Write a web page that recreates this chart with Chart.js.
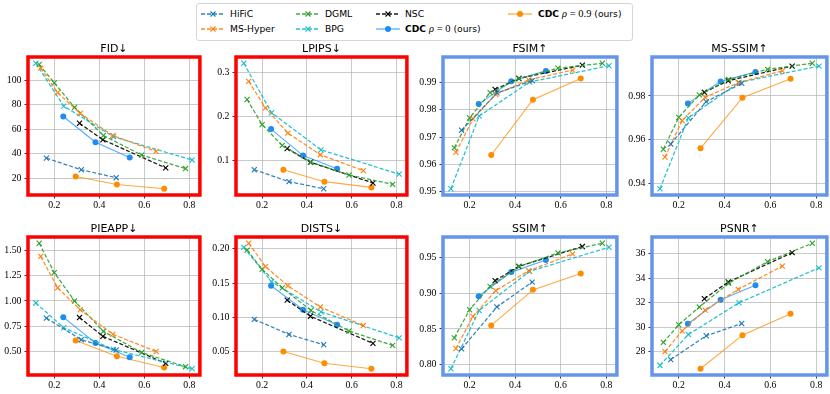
<!DOCTYPE html>
<html><head><meta charset="utf-8">
<script src="https://cdn.jsdelivr.net/npm/chart.js@4"></script>
<style>
html,body{margin:0;padding:0;background:#fff;width:830px;height:394px;overflow:hidden;position:relative}
canvas{position:absolute}
#legend{position:absolute;left:196px;top:3px;width:437px;height:38px;border:1px solid #d6d6d6;border-radius:3px;font-family:"DejaVu Sans";font-size:9.2px;color:#000;box-sizing:border-box;background:#fff}
.item{position:absolute;white-space:nowrap;line-height:12px;height:12px}
.sample{position:absolute}
.m{font-family:"Liberation Serif";font-style:italic;font-size:10.5px}
.r{font-family:"Liberation Serif";font-size:10.5px}
</style></head><body>
<div id="legend"></div>
<script>
// ---- bits per pixel (x) for each method ----
const X_HiFiC   = [0.165, 0.32, 0.475];
const X_MSHyper = [0.14, 0.215, 0.315, 0.46, 0.652];
const X_DGML    = [0.133, 0.2, 0.29, 0.418, 0.588, 0.783];
const X_BPG     = [0.118, 0.242, 0.463, 0.812];
const X_NSC     = [0.312, 0.416, 0.695];
const X_CDC0    = [0.24, 0.383, 0.535];
const X_CDC09   = [0.295, 0.478, 0.688];

// ---- FID ----
const FID_HiFiC   = [36.5, 27, 20.5];
const FID_MSHyper = [110, 90, 73, 55, 42];
const FID_DGML    = [113, 98, 78, 55, 39, 28];
const FID_BPG     = [114, 79, 54, 35];
const FID_NSC     = [65, 51.5, 28.5];
const FID_CDC0    = [70.5, 49.5, 37];
const FID_CDC09   = [21.5, 15, 11.5];
// ---- LPIPS ----
const LPIPS_HiFiC   = [0.079, 0.052, 0.036];
const LPIPS_MSHyper = [0.279, 0.219, 0.162, 0.113, 0.077];
const LPIPS_DGML    = [0.238, 0.181, 0.134, 0.096, 0.067, 0.046];
const LPIPS_BPG     = [0.32, 0.208, 0.124, 0.069];
const LPIPS_NSC     = [0.127, 0.096, 0.049];
const LPIPS_CDC0    = [0.171, 0.111, 0.081];
const LPIPS_CDC09   = [0.079, 0.052, 0.039];
// ---- FSIM ----
const FSIM_HiFiC   = [0.9725, 0.9862, 0.9907];
const FSIM_MSHyper = [0.9644, 0.9767, 0.9857, 0.991, 0.9946];
const FSIM_DGML    = [0.966, 0.977, 0.9863, 0.9915, 0.9953, 0.9971];
const FSIM_BPG     = [0.951, 0.9777, 0.9902, 0.9962];
const FSIM_NSC     = [0.9875, 0.9915, 0.9964];
const FSIM_CDC0    = [0.9821, 0.9905, 0.9943];
const FSIM_CDC09   = [0.9634, 0.9837, 0.9915];
// ---- MS-SSIM ----
const MSSSIM_HiFiC   = [0.958, 0.9774, 0.9858];
const MSSSIM_MSHyper = [0.952, 0.9687, 0.9794, 0.9861, 0.9915];
const MSSSIM_DGML    = [0.9556, 0.9702, 0.9805, 0.9876, 0.9922, 0.995];
const MSSSIM_BPG     = [0.9375, 0.97, 0.9862, 0.9937];
const MSSSIM_NSC     = [0.9817, 0.987, 0.9937];
const MSSSIM_CDC0    = [0.9766, 0.9867, 0.991];
const MSSSIM_CDC09   = [0.956, 0.9792, 0.9879];
// ---- PIEAPP ----
const PIEAPP_HiFiC   = [0.83, 0.617, 0.515];
const PIEAPP_MSHyper = [1.44, 1.13, 0.913, 0.671, 0.5];
const PIEAPP_DGML    = [1.57, 1.28, 1.0, 0.70, 0.49, 0.35];
const PIEAPP_BPG     = [0.98, 0.735, 0.52, 0.33];
const PIEAPP_NSC     = [0.836, 0.65, 0.383];
const PIEAPP_CDC0    = [0.84, 0.584, 0.443];
const PIEAPP_CDC09   = [0.61, 0.453, 0.342];
// ---- DISTS ----
const DISTS_HiFiC   = [0.097, 0.075, 0.06];
const DISTS_MSHyper = [0.208, 0.174, 0.146, 0.115, 0.088];
const DISTS_DGML    = [0.198, 0.17, 0.143, 0.11, 0.08, 0.059];
const DISTS_BPG     = [0.202, 0.152, 0.108, 0.07];
const DISTS_NSC     = [0.125, 0.1015, 0.062];
const DISTS_CDC0    = [0.146, 0.111, 0.089];
const DISTS_CDC09   = [0.05, 0.033, 0.025];
// ---- SSIM ----
const SSIM_HiFiC   = [0.822, 0.881, 0.916];
const SSIM_MSHyper = [0.8225, 0.8675, 0.904, 0.932, 0.9556];
const SSIM_DGML    = [0.8375, 0.877, 0.91, 0.938, 0.957, 0.9706];
const SSIM_BPG     = [0.794, 0.876, 0.931, 0.965];
const SSIM_NSC     = [0.918, 0.938, 0.966];
const SSIM_CDC0    = [0.896, 0.93, 0.947];
const SSIM_CDC09   = [0.855, 0.905, 0.928];
// ---- PSNR ----
const PSNR_HiFiC   = [27.35, 29.3, 30.3];
const PSNR_MSHyper = [28.0, 29.7, 31.4, 33.1, 35.0];
const PSNR_DGML    = [28.76, 30.2, 31.65, 33.6, 35.37, 36.87];
const PSNR_BPG     = [26.88, 29.4, 32.0, 34.86];
const PSNR_NSC     = [32.33, 33.7, 36.1];
const PSNR_CDC0    = [30.28, 32.24, 33.44];
const PSNR_CDC09   = [26.6, 29.35, 31.1];

// ---- tick values / labels ----
const X_TICKS = [0.2, 0.4, 0.6, 0.8];
const X_TICK_LABELS = ['0.2', '0.4', '0.6', '0.8'];
const FID_TICKS = [20, 40, 60, 80, 100];        const FID_LABELS = ['20','40','60','80','100'];
const LPIPS_TICKS = [0.1, 0.2, 0.3];            const LPIPS_LABELS = ['0.1','0.2','0.3'];
const FSIM_TICKS = [0.95, 0.96, 0.97, 0.98, 0.99]; const FSIM_LABELS = ['0.95','0.96','0.97','0.98','0.99'];
const MSSSIM_TICKS = [0.94, 0.96, 0.98];        const MSSSIM_LABELS = ['0.94','0.96','0.98'];
const PIEAPP_TICKS = [0.5, 0.75, 1.0, 1.25, 1.5]; const PIEAPP_LABELS = ['0.50','0.75','1.00','1.25','1.50'];
const DISTS_TICKS = [0.05, 0.1, 0.15, 0.2];     const DISTS_LABELS = ['0.05','0.10','0.15','0.20'];
const SSIM_TICKS = [0.8, 0.85, 0.9, 0.95];      const SSIM_LABELS = ['0.80','0.85','0.90','0.95'];
const PSNR_TICKS = [28, 30, 32, 34, 36];        const PSNR_LABELS = ['28','30','32','34','36'];

// ---- series styles ----
const SERIES = [
  {name:'HiFiC',    x:X_HiFiC,   line:'rgba(31,119,180,0.9)', pt:'#1f77b4', dash:true},
  {name:'MS-Hyper', x:X_MSHyper, line:'rgba(255,127,14,0.9)', pt:'#ff7f0e', dash:true},
  {name:'DGML',     x:X_DGML,    line:'rgba(44,160,44,0.9)',  pt:'#2ca02c', dash:true},
  {name:'BPG',      x:X_BPG,     line:'rgba(23,190,207,0.95)',pt:'#17becf', dash:true},
  {name:'NSC',      x:X_NSC,     line:'rgba(0,0,0,0.9)',      pt:'#000000', dash:true},
  {name:'CDC0',     x:X_CDC0,    line:'rgba(30,144,255,0.75)',pt:'#1e8cf0', dash:false},
  {name:'CDC09',    x:X_CDC09,   line:'rgba(255,140,0,0.75)', pt:'#ff8c00', dash:false}
];

const PANELS = [
  {title:'FID↓',     ys:[FID_HiFiC,FID_MSHyper,FID_DGML,FID_BPG,FID_NSC,FID_CDC0,FID_CDC09], ticks:FID_TICKS, labels:FID_LABELS, frame:'#ff0000', col:0, row:0},
  {title:'LPIPS↓',   ys:[LPIPS_HiFiC,LPIPS_MSHyper,LPIPS_DGML,LPIPS_BPG,LPIPS_NSC,LPIPS_CDC0,LPIPS_CDC09], ticks:LPIPS_TICKS, labels:LPIPS_LABELS, frame:'#ff0000', col:1, row:0},
  {title:'FSIM↑',    ys:[FSIM_HiFiC,FSIM_MSHyper,FSIM_DGML,FSIM_BPG,FSIM_NSC,FSIM_CDC0,FSIM_CDC09], ticks:FSIM_TICKS, labels:FSIM_LABELS, frame:'#6495ed', col:2, row:0},
  {title:'MS-SSIM↑', ys:[MSSSIM_HiFiC,MSSSIM_MSHyper,MSSSIM_DGML,MSSSIM_BPG,MSSSIM_NSC,MSSSIM_CDC0,MSSSIM_CDC09], ticks:MSSSIM_TICKS, labels:MSSSIM_LABELS, frame:'#6495ed', col:3, row:0},
  {title:'PIEAPP↓',  ys:[PIEAPP_HiFiC,PIEAPP_MSHyper,PIEAPP_DGML,PIEAPP_BPG,PIEAPP_NSC,PIEAPP_CDC0,PIEAPP_CDC09], ticks:PIEAPP_TICKS, labels:PIEAPP_LABELS, frame:'#ff0000', col:0, row:1},
  {title:'DISTS↓',   ys:[DISTS_HiFiC,DISTS_MSHyper,DISTS_DGML,DISTS_BPG,DISTS_NSC,DISTS_CDC0,DISTS_CDC09], ticks:DISTS_TICKS, labels:DISTS_LABELS, frame:'#ff0000', col:1, row:1},
  {title:'SSIM↑',    ys:[SSIM_HiFiC,SSIM_MSHyper,SSIM_DGML,SSIM_BPG,SSIM_NSC,SSIM_CDC0,SSIM_CDC09], ticks:SSIM_TICKS, labels:SSIM_LABELS, frame:'#6495ed', col:2, row:1},
  {title:'PSNR↑',    ys:[PSNR_HiFiC,PSNR_MSHyper,PSNR_DGML,PSNR_BPG,PSNR_NSC,PSNR_CDC0,PSNR_CDC09], ticks:PSNR_TICKS, labels:PSNR_LABELS, frame:'#6495ed', col:3, row:1}
];

// ---- layout (plot-area boxes) ----
const COLS = [[28,201],[236,408],[443,618],[652,828]];
const ROWS = [[57,195],[237,375]];
const W_Y = 28, T_H = 15, X_H = 20, PAD_R = 4;

const framePlugin = {
  id:'frame',
  afterDatasetsDraw(chart, args, opts){
    const {ctx, chartArea:a} = chart;
    ctx.save();
    ctx.strokeStyle = opts.color; ctx.lineWidth = 3.5;
    ctx.strokeRect(a.left, a.top, a.right-a.left, a.bottom-a.top);
    ctx.restore();
  }
};

function range(arrs){
  let mn = Infinity, mx = -Infinity;
  arrs.forEach(a => a.forEach(v => { mn = Math.min(mn, v); mx = Math.max(mx, v); }));
  const m = (mx - mn) * 0.05;
  return [mn - m, mx + m];
}
const XR = range(SERIES.map(s => s.x));

PANELS.forEach((p, idx) => {
  const [l, r] = COLS[p.col], [t, b] = ROWS[p.row];
  const cv = document.createElement('canvas');
  const w = W_Y + (r - l) + PAD_R, h = T_H + (b - t) + X_H;
  cv.width = w; cv.height = h;
  cv.style.left = (l - W_Y) + 'px'; cv.style.top = (t - T_H) + 'px';
  cv.style.width = w + 'px'; cv.style.height = h + 'px';
  document.body.appendChild(cv);
  const YR = range(p.ys);
  const datasets = SERIES.map((s, i) => ({
    label: s.name,
    data: s.x.map((x, k) => ({x, y: p.ys[i][k]})),
    borderColor: s.line,
    backgroundColor: s.pt,
    borderWidth: s.dash ? 1.25 : 1.1,
    borderDash: s.dash ? [4, 2] : [],
    pointStyle: s.dash ? 'crossRot' : 'circle',
    pointRadius: s.dash ? 3.6 : 3,
    pointBorderWidth: s.dash ? 1.1 : 0,
    pointBorderColor: s.pt,
    pointBackgroundColor: s.pt,
    tension: 0, fill: false
  }));
  new Chart(cv, {
    type: 'line',
    data: {datasets},
    plugins: [framePlugin],
    options: {
      responsive: false, animation: false, devicePixelRatio: 1,
      layout: {padding: {left: 0, right: PAD_R, top: 0, bottom: 0}},
      plugins: {
        legend: {display: false}, tooltip: {enabled: false},
        title: {display: true, text: p.title, fullSize: false, color: '#000',
                font: {family: 'DejaVu Sans', size: 11, lineHeight: '14px', weight: 'normal'},
                padding: {top: 0, bottom: 1}},
        frame: {color: p.frame}
      },
      scales: {
        x: {
          type: 'linear', min: XR[0], max: XR[1],
          afterFit: s => { s.height = X_H; },
          afterBuildTicks: s => { s.ticks = X_TICKS.map(v => ({value: v})); },
          ticks: {callback: (v, i) => X_TICK_LABELS[i], color: '#000', padding: 1, maxRotation: 0,
                  font: {family: 'Liberation Serif', size: 9.8}},
          grid: {color: 'rgba(176,176,176,0.75)', lineWidth: 0.9, drawTicks: true, tickLength: 3.5, tickColor: '#000', tickWidth: 0.8},
          border: {display: false}
        },
        y: {
          type: 'linear', min: YR[0], max: YR[1],
          afterFit: s => { s.width = W_Y; },
          afterBuildTicks: s => { s.ticks = p.ticks.map(v => ({value: v})); },
          ticks: {callback: (v, i) => p.labels[i], color: '#000', padding: 3,
                  font: {family: 'Liberation Serif', size: 9.8}},
          grid: {color: 'rgba(176,176,176,0.75)', lineWidth: 0.9, drawTicks: true, tickLength: 3.5, tickColor: '#000', tickWidth: 0.8},
          border: {display: false}
        }
      }
    }
  });
});

// ---- legend (HTML) ----
const LEG_LABELS = [
  'HiFiC', 'MS-Hyper', 'DGML', 'BPG', 'NSC',
  '<b>CDC</b> <span class="m">ρ</span><span class="r"> = 0</span> (ours)',
  '<b>CDC</b> <span class="m">ρ</span><span class="r"> = 0.9</span> (ours)'
];
const LEG_POS = [[0,0],[0,1],[1,0],[1,1],[2,0],[2,1],[3,0]];
const SAMPLE_X = [4, 99, 179, 311], TEXT_X = [33, 128, 208, 341], ROW_Y = [10, 25];
const leg = document.getElementById('legend');
SERIES.forEach((s, i) => {
  const [c, rr] = LEG_POS[i];
  const cy = ROW_Y[rr];
  const marker = s.dash
    ? `<line x1="9.5" y1="2.5" x2="14.5" y2="7.5" stroke="${s.pt}" stroke-width="1.1"/><line x1="9.5" y1="7.5" x2="14.5" y2="2.5" stroke="${s.pt}" stroke-width="1.1"/>`
    : `<circle cx="12" cy="5" r="3" fill="${s.pt}"/>`;
  const svg = `<svg class="sample" width="24" height="10" style="left:${SAMPLE_X[c]}px;top:${cy-5}px"><line x1="0" y1="5" x2="24" y2="5" stroke="${s.line}" stroke-width="1.3" ${s.dash ? 'stroke-dasharray="4,2"' : ''}/>${marker}</svg>`;
  leg.insertAdjacentHTML('beforeend', svg);
  leg.insertAdjacentHTML('beforeend', `<div class="item" style="left:${TEXT_X[c]}px;top:${cy-6}px">${LEG_LABELS[i]}</div>`);
});
</script>
</body></html>
